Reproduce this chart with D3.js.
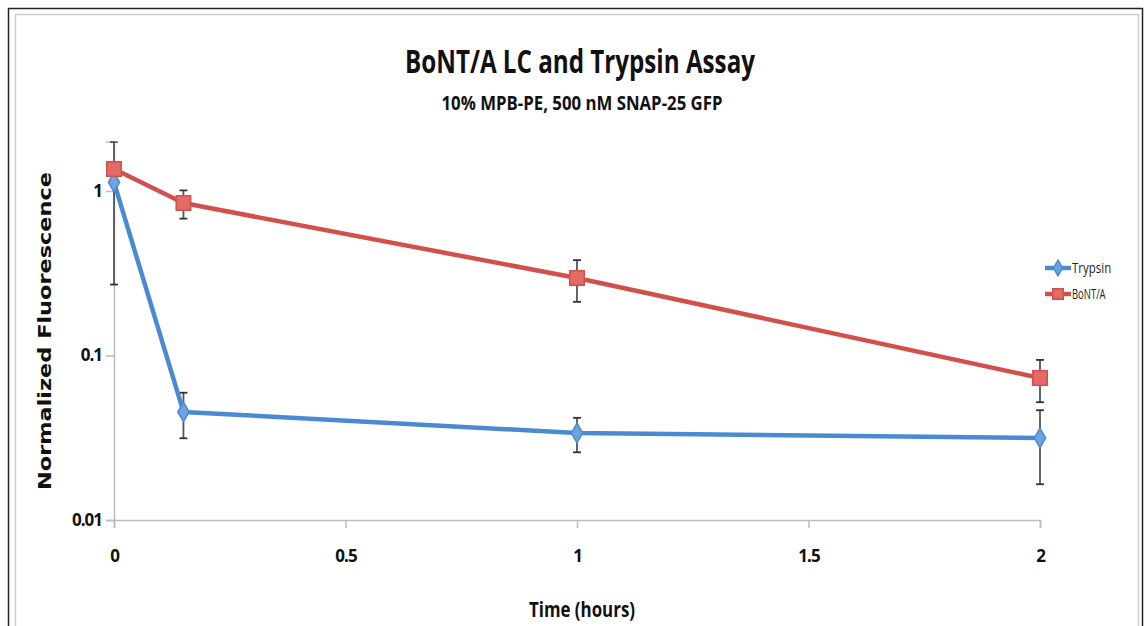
<!DOCTYPE html>
<html>
<head>
<meta charset="utf-8">
<script src="https://cdn.jsdelivr.net/npm/d3@7"></script>
<style>
  body { margin: 0; background: #fff; }
  text { font-family: "Liberation Sans Narrow", "Open Sans", sans-serif; }
</style>
</head>
<body>
<script>
//Width and height
var w = 1145;
var h = 626;

//Data
var times = [0, 0.15, 1, 2];
var trypsin = [1.13, 0.0454, 0.0338, 0.0315];
var trypsinErr = [0.86, 0.014, 0.008, 0.015];
var bont = [1.36, 0.845, 0.296, 0.073];
var bontErr = [0.05, 0.165, 0.084, 0.021];
var xTicks = [0, 0.5, 1, 1.5, 2];
var yTicks = [0.01, 0.1, 1];
var seriesNames = ["Trypsin", "BoNT/A"];
var seriesColors = ["#4a8ad0", "#d2504c"];

var series = [
	{ name: seriesNames[0], color: seriesColors[0], values: trypsin, err: trypsinErr, shape: "diamond" },
	{ name: seriesNames[1], color: seriesColors[1], values: bont, err: bontErr, shape: "square" }
];

//Scales
var x = d3.scaleLinear().domain([0, 2]).range([114, 1040]);
var y = d3.scaleLog().domain([0.01, 2]).range([520, 141.5]);

//Create SVG element
var svg = d3.select("body")
			.append("svg")
			.attr("width", w)
			.attr("height", h);

//Frame
svg.append("rect")
	.attr("x", 8.5).attr("y", 8.5)
	.attr("width", 1134).attr("height", 640)
	.attr("fill", "#fff").attr("stroke", "#222").attr("stroke-width", 1.5);
svg.append("rect")
	.attr("x", 15.5).attr("y", 14.5)
	.attr("width", 1123).attr("height", 640)
	.attr("fill", "none").attr("stroke", "#ccc").attr("stroke-width", 1.5);

//Titles (the original font is condensed, so squeeze to its width)
svg.append("text")
	.attr("x", 580).attr("y", 73)
	.attr("text-anchor", "middle")
	.style("font-size", "32px").style("font-weight", "bold")
	.attr("textLength", 350).attr("lengthAdjust", "spacingAndGlyphs")
	.attr("fill", "#111")
	.text("BoNT/A LC and Trypsin Assay");
svg.append("text")
	.attr("x", 582).attr("y", 110)
	.attr("text-anchor", "middle")
	.style("font-size", "20px").style("font-weight", "bold")
	.attr("textLength", 281).attr("lengthAdjust", "spacingAndGlyphs")
	.attr("fill", "#111")
	.text("10% MPB-PE, 500 nM SNAP-25 GFP");

//Axes
var xAxis = d3.axisBottom(x).tickValues(xTicks).tickSize(8).tickFormat(d3.format("~g"));
var yAxis = d3.axisLeft(y).tickValues(yTicks).tickSize(8).tickFormat(d3.format("~g"));

var gx = svg.append("g").attr("transform", "translate(0,520)").call(xAxis);
var gy = svg.append("g").attr("transform", "translate(114,0)").call(yAxis);

[gx, gy].forEach(function(g) {
	g.select(".domain").attr("stroke", "#bbb").attr("stroke-width", 1.5);
	g.selectAll(".tick line").attr("stroke", "#bbb").attr("stroke-width", 1.5);
	g.selectAll(".tick text")
		.attr("fill", "#111")
		.style("font-size", "17px").style("font-weight", "bold")
		.style("letter-spacing", "-1px");
});
gx.selectAll(".tick text").attr("dy", "0").attr("y", 42);
gy.selectAll(".tick text").attr("x", -12);

//Axis titles
svg.append("text")
	.attr("transform", "translate(51,331) rotate(-90)")
	.attr("text-anchor", "middle")
	.style("font-family", "'DejaVu Sans', sans-serif")
	.style("font-size", "17px").style("font-weight", "bold")
	.attr("textLength", 318).attr("lengthAdjust", "spacingAndGlyphs")
	.attr("fill", "#111")
	.text("Normalized Fluorescence");
svg.append("text")
	.attr("x", 582).attr("y", 617)
	.attr("text-anchor", "middle")
	.style("font-size", "22px").style("font-weight", "bold")
	.attr("textLength", 106).attr("lengthAdjust", "spacingAndGlyphs")
	.attr("fill", "#111")
	.text("Time (hours)");

//Clip to plot area
svg.append("clipPath").attr("id", "plot")
	.append("rect").attr("x", 100).attr("y", 141.5).attr("width", 960).attr("height", 390);

var plot = svg.append("g").attr("clip-path", "url(#plot)");

//Error bars first so markers sit on top
series.forEach(function(s) {
	var eb = plot.append("g").attr("stroke", "#555").attr("stroke-width", 1.8);
	times.forEach(function(t, i) {
		var lo = y(Math.max(s.values[i] - s.err[i], 0.0101));
		var hi = y(s.values[i] + s.err[i]);
		eb.append("line").attr("x1", x(t)).attr("x2", x(t)).attr("y1", lo).attr("y2", hi);
		eb.append("line").attr("x1", x(t) - 4).attr("x2", x(t) + 4).attr("y1", lo).attr("y2", lo).attr("stroke", "#333");
		eb.append("line").attr("x1", x(t) - 4).attr("x2", x(t) + 4).attr("y1", hi).attr("y2", hi).attr("stroke", "#333");
	});
});

//Lines
var line = d3.line()
	.x(function(d, i) { return x(times[i]); })
	.y(function(d) { return y(d); });

series.forEach(function(s) {
	svg.append("path")
		.datum(s.values)
		.attr("d", line)
		.attr("fill", "none")
		.attr("stroke", s.color)
		.attr("stroke-width", 4.5)
		.attr("stroke-linejoin", "round");
});

//Markers
function marker(g, shape, color, cx, cy, size) {
	var sym = shape == "square" ? d3.symbolSquare : d3.symbolDiamond;
	g.append("path")
		.attr("d", d3.symbol().type(sym).size(size))
		.attr("transform", "translate(" + cx + "," + cy + ")")
		.attr("fill", shape == "square" ? "#e46a66" : "#6ea4de")
		.attr("stroke", color)
		.attr("stroke-width", 1.5);
}

series.forEach(function(s) {
	var g = svg.append("g");
	s.values.forEach(function(v, i) {
		marker(g, s.shape, s.color, x(times[i]), y(v), s.shape == "square" ? 210 : 110);
	});
});

//Legend
var legend = svg.append("g").attr("transform", "translate(1045,268)");
series.forEach(function(s, i) {
	var row = legend.append("g").attr("transform", "translate(0," + (i * 26) + ")");
	row.append("line")
		.attr("x1", 0).attr("x2", 26).attr("y1", 0).attr("y2", 0)
		.attr("stroke", s.color).attr("stroke-width", 4.5);
	marker(row, s.shape, s.color, 13, 0, s.shape == "square" ? 110 : 70);
	row.append("text")
		.attr("x", 27).attr("y", 5)
		.style("font-size", "15px")
		.attr("textLength", s.name.length * 5.6).attr("lengthAdjust", "spacingAndGlyphs")
		.attr("fill", "#222")
		.text(s.name);
});
</script>
</body>
</html>
